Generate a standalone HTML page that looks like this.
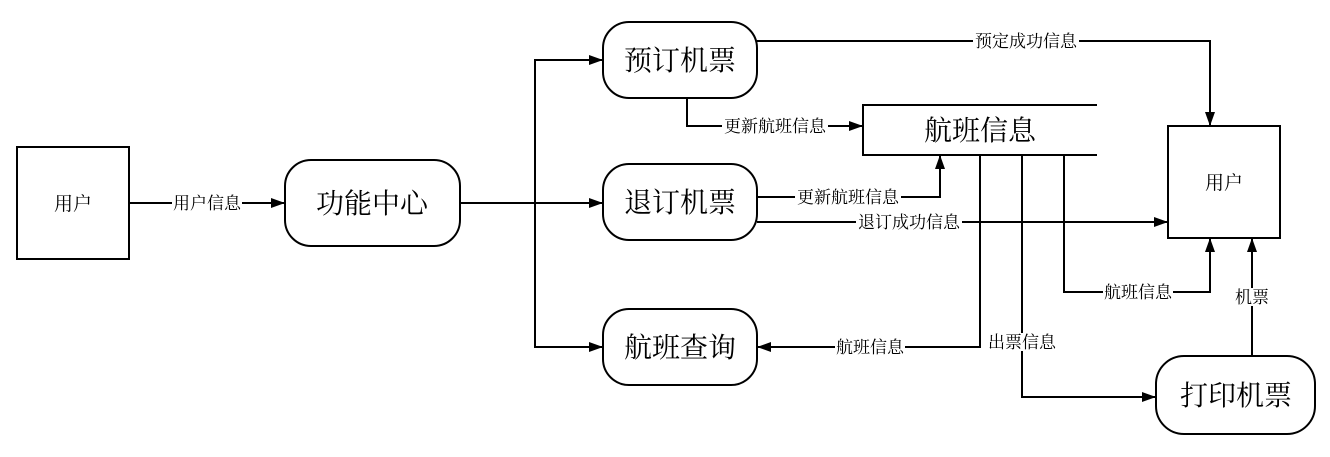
<!DOCTYPE html>
<html><head><meta charset="utf-8"><style>
body{margin:0;background:#fff}
text{font-family:"Liberation Serif","Noto Serif CJK SC",serif;fill:#000}
.s{font-size:17px}
.b{font-size:28px}
</style></head><body>
<svg width="1330" height="452" viewBox="0 0 1330 452" xmlns="http://www.w3.org/2000/svg">
<defs><marker id="a" markerWidth="14" markerHeight="10" refX="14" refY="5" orient="auto" markerUnits="userSpaceOnUse"><path d="M0,0L14,5L0,10z" fill="#000"/></marker></defs>
<g fill="none" stroke="#000" stroke-width="2">
<rect x="17" y="147" width="112" height="112"/>
<rect x="1168" y="126" width="112" height="112"/>
<rect x="285" y="160" width="175" height="86" rx="26"/>
<rect x="603" y="22" width="154" height="76" rx="26"/>
<rect x="603" y="164" width="154" height="76" rx="26"/>
<rect x="603" y="309" width="154" height="76" rx="26"/>
<rect x="1156" y="356" width="159" height="78" rx="28"/>
<path d="M1097,105H863V155H1097"/>
<path d="M129,203H285" marker-end="url(#a)"/>
<path d="M460,203H603" marker-end="url(#a)"/>
<path d="M535,203V60H603" marker-end="url(#a)"/>
<path d="M535,203V347H603" marker-end="url(#a)"/>
<path d="M757,41H1210V126" marker-end="url(#a)"/>
<path d="M687,98V126H863" marker-end="url(#a)"/>
<path d="M757,197H940V155" marker-end="url(#a)"/>
<path d="M757,222H1168" marker-end="url(#a)"/>
<path d="M980,155V347H757" marker-end="url(#a)"/>
<path d="M1022,155V397H1156" marker-end="url(#a)"/>
<path d="M1064,155V292H1210V238" marker-end="url(#a)"/>
<path d="M1252,356V238" marker-end="url(#a)"/>
</g>
<g class="s" text-anchor="middle">
<rect x="172" y="194" width="70" height="18" fill="#fff"/><text x="207" y="209">用户信息</text>
<rect x="973" y="32" width="106" height="18" fill="#fff"/><text x="1026" y="47">预定成功信息</text>
<rect x="722" y="117" width="106" height="18" fill="#fff"/><text x="775" y="132">更新航班信息</text>
<rect x="795" y="188" width="106" height="18" fill="#fff"/><text x="848" y="203">更新航班信息</text>
<rect x="856" y="213" width="106" height="18" fill="#fff"/><text x="909" y="228">退订成功信息</text>
<rect x="835" y="338" width="70" height="18" fill="#fff"/><text x="870" y="353">航班信息</text>
<rect x="987" y="333" width="70" height="18" fill="#fff"/><text x="1022" y="348">出票信息</text>
<rect x="1103" y="283" width="70" height="18" fill="#fff"/><text x="1138" y="298">航班信息</text>
<rect x="1235" y="288" width="34" height="18" fill="#fff"/><text x="1252" y="303">机票</text>
</g>
<g text-anchor="middle">
<text x="73" y="210" style="font-size:19px">用户</text>
<text x="1224" y="189" style="font-size:19px">用户</text>
<text class="b" x="372" y="213">功能中心</text>
<text class="b" x="680" y="70">预订机票</text>
<text class="b" x="680" y="212">退订机票</text>
<text class="b" x="680" y="357">航班查询</text>
<text class="b" x="980" y="140">航班信息</text>
<text class="b" x="1236" y="405">打印机票</text>
</g>
</svg>
</body></html>
